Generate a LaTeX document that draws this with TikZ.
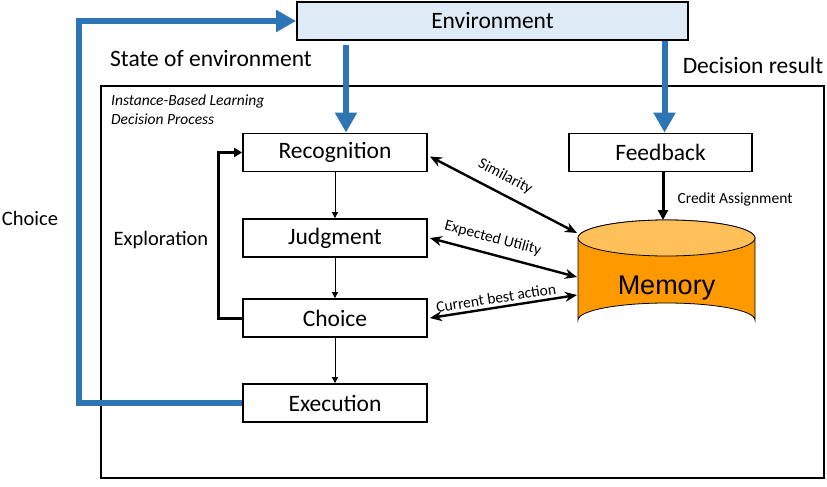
\documentclass[tikz,border=0pt]{standalone}
\usepackage{fontspec}
\setmainfont{Carlito}
\newfontfamily\arialf{Liberation Sans}
\usetikzlibrary{arrows.meta}
\definecolor{envfill}{HTML}{DEEBF7}
\definecolor{flowblue}{HTML}{2E75B6}
\definecolor{membody}{HTML}{FF9900}
\definecolor{memtop}{HTML}{FFC05A}
\tikzset{
  stepbox/.style={draw=black, line width=1.8pt, fill=white, minimum width=184pt, minimum height=38pt, inner sep=0pt, font=\fontsize{23.5}{27}\selectfont},
  bigtext/.style={font=\fontsize{23.5}{27}\selectfont, inner sep=0pt},
  midtext/.style={font=\fontsize{20.5}{24}\selectfont, inner sep=0pt},
  smalltext/.style={font=\fontsize{15.5}{18}\selectfont, inner sep=0pt},
  bluearrow/.style={draw=flowblue, line width=6pt, -{Triangle[length=20pt,width=21pt]}},
  bluepath/.style={draw=flowblue, line width=6pt},
  thinarrow/.style={draw=black, line width=0.9pt, -{Triangle[length=6pt,width=6pt]}},
  looparrow/.style={draw=black, line width=3pt, -{Triangle[length=8pt,width=9pt]}},
  dblarrow/.style={draw=black, line width=2.4pt, {Stealth[length=12pt,width=10pt]}-{Stealth[length=12pt,width=10pt]}},
}
\begin{document}
\begin{tikzpicture}[x=1pt,y=-1pt]
\useasboundingbox (0,0) rectangle (827,487);
% outer frame
\node[draw=black, line width=1.2pt, minimum width=723pt, minimum height=392pt, inner sep=0pt] (frame) at (462.5,282) {};
\node[smalltext, font=\fontsize{15.5}{19}\selectfont\itshape, align=left, anchor=north west] (ibl) at (111,95) {Instance-Based Learning\\Decision Process};
% environment
\node[draw=black, line width=1.8pt, fill=envfill, minimum width=391pt, minimum height=38pt, inner sep=0pt, font=\fontsize{23.5}{27}\selectfont] (env) at (492.5,21) {Environment};
% step boxes
\node[stepbox] (rec) at (335,152.5) {Recognition};
\node[stepbox] (jud) at (335,238) {Judgment};
\node[stepbox] (cho) at (335,318) {Choice};
\node[stepbox] (exe) at (335,403) {Execution};
\node[stepbox, minimum width=183pt] (fb) at (660.5,152.5) {Feedback};
% memory cylinder
\fill[membody, draw=black, line width=0.8pt] (578,238) -- (578,320) arc[start angle=180, end angle=0, x radius=88.5pt, y radius=17pt] -- (755,238) arc[start angle=0, end angle=180, x radius=88.5pt, y radius=18pt] -- cycle;
\filldraw[fill=memtop, draw=black, line width=0.8pt] (666.5,238) ellipse[x radius=88.5pt, y radius=18pt];
\node[font=\arialf\fontsize{27}{30}\selectfont, inner sep=0pt] (mem) at (666.5,288) {Memory};
\coordinate (mtop) at (663,220);
\coordinate (m1) at (577,233);
\coordinate (m2) at (577,277);
\coordinate (m3) at (577,295);
% free labels
\node[bigtext] (soe) at (211,59) {State of environment};
\node[bigtext] (dres) at (753,65) {Decision result};
\node[midtext] (chl) at (30,218) {Choice};
\node[midtext] (expl) at (161,240) {Exploration};
% blue flows
\draw[bluearrow] ([xshift=11pt,yshift=-4pt]rec.north |- env.south) -- ([xshift=11pt]rec.north);
\draw[bluearrow] ([xshift=4pt]fb.north |- env.south) -- ([xshift=4pt]fb.north);
\draw[bluepath, -{Triangle[length=20pt,width=21pt]}] (exe.west) -- ++(-163,0) |- (env.west);
% exploration loop
\draw[looparrow] (cho.west) -- ++(-24,0) |- (rec.west);
% thin arrows
\draw[thinarrow] (rec.south) -- (jud.north);
\draw[thinarrow] (jud.south) -- (cho.north);
\draw[thinarrow] (cho.south) -- (exe.north);
% feedback to memory
\draw[draw=black, line width=3pt, -{Triangle[length=10pt,width=10pt]}] ([xshift=2.5pt]fb.south) -- (mtop);
\node[smalltext] (ca) at (735,199) {Credit Assignment};
% double arrows
\draw[dblarrow] ([yshift=-4pt,xshift=2pt]rec.east) -- node[smalltext, sloped, above=9pt, pos=0.46] (simlab) {Similarity} (m1);
\draw[dblarrow] ([xshift=2pt]jud.east) -- node[smalltext, sloped, above=8pt, pos=0.40] (eulab) {Expected Utility} (m2);
\draw[dblarrow] ([xshift=2pt]cho.east) -- node[smalltext, sloped, above=3pt, pos=0.46] (cblab) {Current best action} (m3);
\end{tikzpicture}
\end{document}
